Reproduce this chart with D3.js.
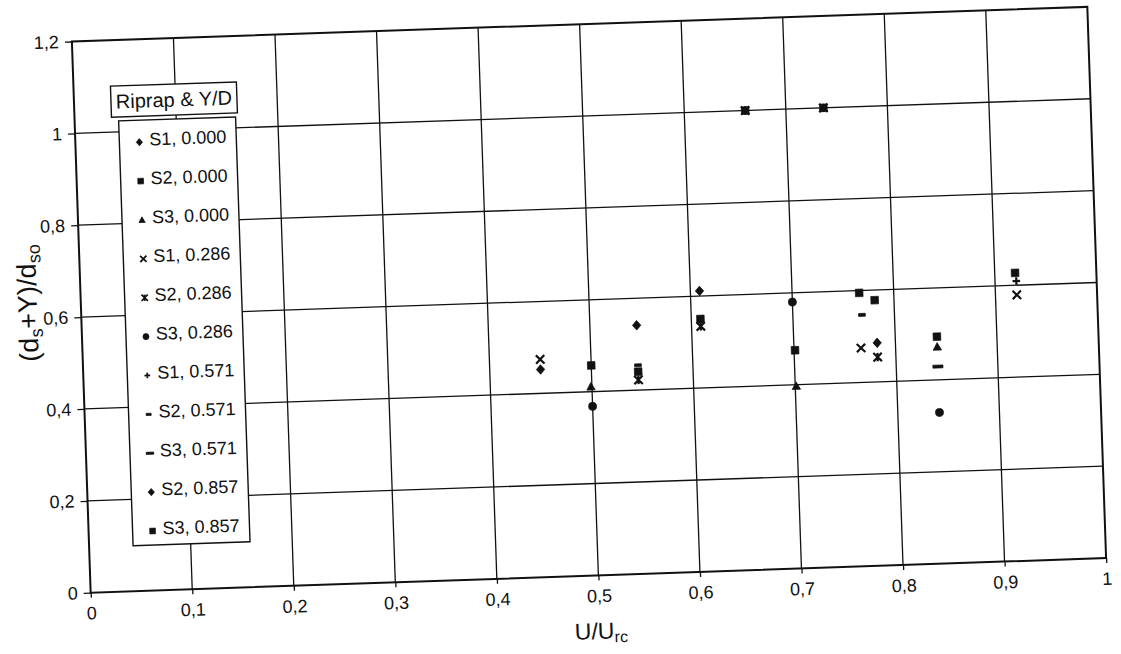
<!DOCTYPE html>
<html>
<head>
<meta charset="utf-8">
<script src="https://cdn.jsdelivr.net/npm/d3@7"></script>
<style>
  body { margin: 0; background: #fff; }
  text { font-family: "Liberation Sans", Arial, sans-serif; fill: #111; }
</style>
</head>
<body>
<svg id="chart" width="1121" height="654"></svg>
<script>
// ---- data ----
const xTicks = [0, 0.1, 0.2, 0.3, 0.4, 0.5, 0.6, 0.7, 0.8, 0.9, 1];
const yTicks = [0, 0.2, 0.4, 0.6, 0.8, 1.0, 1.2];
const legendTitle = "Riprap & Y/D";
const seriesNames = ["S1, 0.000", "S2, 0.000", "S3, 0.000", "S1, 0.286", "S2, 0.286", "S3, 0.286",
                     "S1, 0.571", "S2, 0.571", "S3, 0.571", "S2, 0.857", "S3, 0.857"];
const seriesSymbols = ["diamond", "square", "triangle", "x", "star", "circle",
                       "plus", "dash", "longdash", "diamond", "square"];
const S1_000 = [[0.450, 0.452], [0.782, 0.485]];
const S2_000 = [[0.500, 0.457], [0.546, 0.440], [0.609, 0.550], [0.660, 1.000], [0.737, 1.000],
                [0.701, 0.475], [0.841, 0.494], [0.920, 0.627]];
const S3_000 = [[0.499, 0.411], [0.701, 0.397], [0.841, 0.472]];
const S1_286 = [[0.450, 0.474], [0.766, 0.475], [0.921, 0.579]];
const S2_286 = [[0.546, 0.422], [0.609, 0.534], [0.660, 1.000], [0.737, 1.000], [0.782, 0.454]];
const S3_286 = [[0.500, 0.368], [0.700, 0.580], [0.841, 0.329]];
const S1_571 = [[0.921, 0.609]];
const S2_571 = [[0.546, 0.454], [0.768, 0.547]];
const S3_571 = [[0.841, 0.429]];
const S2_857 = [[0.546, 0.541], [0.609, 0.611]];
const S3_857 = [[0.766, 0.595], [0.781, 0.578]];
const seriesData = [S1_000, S2_000, S3_000, S1_286, S2_286, S3_286, S1_571, S2_571, S3_571, S2_857, S3_857];

// ---- layout ----
const W = 1121, H = 654;
const plot = { left: 81, right: 1097, top: 24, bottom: 575.5 };
const tilt = -1.95, cx = 590, cy = 300;
const ink = "#111";

const svg = d3.select("#chart");
svg.append("rect").attr("width", W).attr("height", H).attr("fill", "#fff");
const g = svg.append("g").attr("transform", `rotate(${tilt},${cx},${cy})`);

const x = d3.scaleLinear().domain([0, 1]).range([plot.left, plot.right]);
const y = d3.scaleLinear().domain([0, 1.2]).range([plot.bottom, plot.top]);
const fmt = d => String(+d.toFixed(1)).replace(".", ",");

// grid
g.append("g").selectAll("line").data(xTicks.filter(d => d > 0 && d < 1)).join("line")
  .attr("x1", d => x(d)).attr("x2", d => x(d)).attr("y1", plot.top).attr("y2", plot.bottom)
  .attr("stroke", ink).attr("stroke-width", 1.3);
g.append("g").selectAll("line").data(yTicks.filter(d => d > 0 && d < 1.2)).join("line")
  .attr("y1", d => y(d)).attr("y2", d => y(d)).attr("x1", plot.left).attr("x2", plot.right)
  .attr("stroke", ink).attr("stroke-width", 1.3);

// frame
g.append("rect").attr("x", plot.left).attr("y", plot.top)
  .attr("width", plot.right - plot.left).attr("height", plot.bottom - plot.top)
  .attr("fill", "none").attr("stroke", ink).attr("stroke-width", 2);

// axes
const ax = g.append("g").attr("transform", `translate(0,${plot.bottom})`)
  .call(d3.axisBottom(x).tickValues(xTicks).tickFormat(fmt).tickSize(5).tickPadding(9).tickSizeOuter(0));
const ay = g.append("g").attr("transform", `translate(${plot.left},0)`)
  .call(d3.axisLeft(y).tickValues(yTicks).tickFormat(fmt).tickSize(7).tickPadding(6).tickSizeOuter(0));
[ax, ay].forEach(a => {
  a.select(".domain").remove();
  a.selectAll("line").attr("stroke", ink).attr("stroke-width", 1.3);
  a.selectAll("text").attr("font-size", 18).attr("fill", ink)
    .style("font-family", '"Liberation Sans", Arial, sans-serif');
});

// axis titles
const xt = g.append("text").attr("x", 590).attr("y", 639).attr("text-anchor", "middle").attr("font-size", 23);
xt.append("tspan").text("U/U");
xt.append("tspan").attr("font-size", 16).attr("dy", 4).text("rc");

const yt = g.append("text").attr("transform", "translate(37,284) rotate(-90)")
  .attr("text-anchor", "middle").attr("font-size", 27);
yt.append("tspan").text("(d");
yt.append("tspan").attr("font-size", 18).attr("dy", 5).text("s");
yt.append("tspan").attr("dy", -5).text("+Y)/d");
yt.append("tspan").attr("font-size", 18).attr("dy", 5).text("so");

// marker paths
function markerPath(type, k) {
  const s = 4.2 * k;
  switch (type) {
    case "diamond": return `M0,${-1.15*s}L${s},0L0,${1.15*s}L${-s},0Z`;
    case "square": return `M${-0.9*s},${-0.9*s}H${0.9*s}V${0.9*s}H${-0.9*s}Z`;
    case "triangle": return `M0,${-s}L${s},${0.8*s}L${-s},${0.8*s}Z`;
    case "circle": return d3.symbol(d3.symbolCircle, Math.PI * (0.95*s) * (0.95*s))();
    case "dash": return `M${-0.8*s},${-0.35*s}H${0.8*s}V${0.35*s}H${-0.8*s}Z`;
    case "longdash": return `M${-1.2*s},${-0.35*s}H${1.2*s}V${0.35*s}H${-1.2*s}Z`;
    case "x": return `M${-s},${-s}L${s},${s}M${s},${-s}L${-s},${s}`;
    case "star": return `M${-s},${-s}L${s},${s}M${s},${-s}L${-s},${s}M0,${-s}V${s}`;
    case "plus": return `M${-0.9*s},0H${0.9*s}M0,${-0.9*s}V${0.9*s}`;
  }
}
const stroked = t => t === "x" || t === "star" || t === "plus";
function drawMarker(sel, type, k) {
  sel.attr("d", markerPath(type, k))
    .attr("fill", stroked(type) ? "none" : ink)
    .attr("stroke", ink)
    .attr("stroke-width", stroked(type) ? 2.2 * Math.max(k, 0.8) : 0.7);
}

// points
seriesData.forEach((arr, i) => {
  g.append("g").selectAll("path").data(arr).join("path")
    .attr("transform", d => `translate(${x(d[0])},${y(d[1])})`)
    .each(function () { drawMarker(d3.select(this), seriesSymbols[i], 1); });
});

// legend title box
const tb = { x: 118, y: 70, w: 126, h: 31 };
g.append("rect").attr("x", tb.x).attr("y", tb.y).attr("width", tb.w).attr("height", tb.h)
  .attr("fill", "#fff").attr("stroke", ink).attr("stroke-width", 1.4);
g.append("text").attr("x", tb.x + tb.w / 2).attr("y", tb.y + tb.h / 2 + 7)
  .attr("text-anchor", "middle").attr("font-size", 20).text(legendTitle);

// legend box
const lb = { x: 125, y: 105, w: 117, h: 425 };
g.append("rect").attr("x", lb.x).attr("y", lb.y).attr("width", lb.w).attr("height", lb.h)
  .attr("fill", "#fff").attr("stroke", ink).attr("stroke-width", 1.4);
const step = 38.9, first = 124;
const items = g.append("g").selectAll("g").data(seriesNames).join("g")
  .attr("transform", (d, i) => `translate(0,${first + i * step})`);
items.append("path").attr("transform", "translate(145,3)")
  .each(function (d, i) { drawMarker(d3.select(this), seriesSymbols[i], 0.75); });
items.append("text").attr("x", 155).attr("y", 6.5).attr("font-size", 18).text(d => d);
</script>
</body>
</html>
